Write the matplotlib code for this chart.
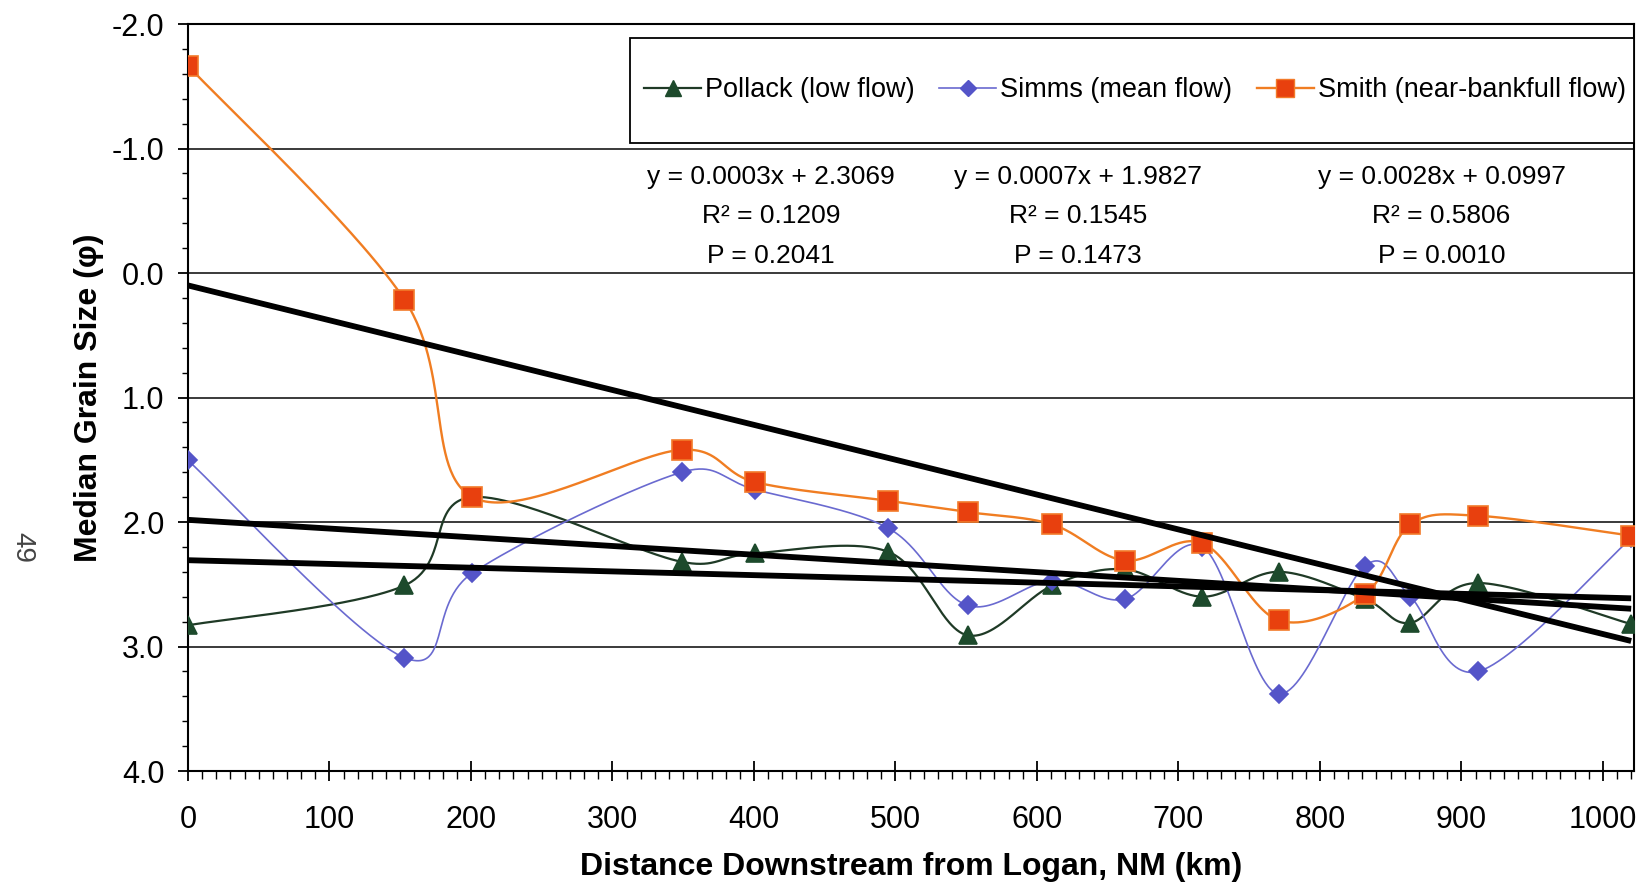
import numpy as np
import matplotlib
matplotlib.use("Agg")
import matplotlib.pyplot as plt
from matplotlib.ticker import MultipleLocator, FixedLocator, FormatStrFormatter
from matplotlib.patches import Rectangle
from matplotlib.lines import Line2D

# ---------------- data ----------------
distance_km = [0, 153, 201, 349, 401, 495, 551, 611, 662, 717, 771, 832, 864, 912, 1020]
pollack_phi = [2.83, 2.51, 1.80, 2.32, 2.25, 2.24, 2.91, 2.51, 2.38, 2.60, 2.40, 2.62, 2.81, 2.49, 2.82]
simms_phi = [1.505, 3.09, 2.41, 1.60, 1.74, 2.05, 2.67, 2.47, 2.62, 2.20, 3.38, 2.35, 2.60, 3.20, 2.13]
smith_phi = [-1.665, 0.215, 1.80, 1.42, 1.68, 1.83, 1.92, 2.02, 2.31, 2.17, 2.79, 2.58, 2.02, 1.95, 2.11]

series_names = ["Pollack (low flow)", "Simms (mean flow)", "Smith (near-bankfull flow)"]
trend_slopes = [0.0003, 0.0007, 0.0028]
trend_intercepts = [2.3069, 1.9827, 0.0997]
r_squared = ["0.1209", "0.1545", "0.5806"]
p_values = ["0.2041", "0.1473", "0.0010"]

x_tick_values = list(range(0, 1001, 100))
y_tick_values = [-2.0, -1.0, 0.0, 1.0, 2.0, 3.0, 4.0]

# ---------------- style ----------------
plt.rcParams["font.family"] = ["Liberation Sans", "DejaVu Sans"]
plt.rcParams["axes.unicode_minus"] = False

W, H = 1646, 888
fig = plt.figure(figsize=(W / 100, H / 100), dpi=100)
L, R, T, B = 188, 1634, 24, 771
ax = fig.add_axes([L / W, 1 - B / H, (R - L) / W, (B - T) / H])
ax.set_xlim(0, 1022)
ax.set_ylim(4, -2)


def excel_smooth(ax, xs, ys, n=60):
    """Excel-like smoothed line (cubic Bezier) computed in screen space."""
    P = ax.transData.transform(np.column_stack([xs, ys]))
    N = len(P)
    out = [P[0]]
    t = np.linspace(0, 1, n)[1:][:, None]
    for i in range(N - 1):
        p0 = P[i - 1] if i > 0 else P[i]
        p1 = P[i]
        p2 = P[i + 1]
        p3 = P[i + 2] if i + 2 < N else P[i + 1]
        d12 = np.linalg.norm(p2 - p1)
        d02 = np.linalg.norm(p2 - p0)
        d13 = np.linalg.norm(p3 - p1)
        f1 = f2 = 1.0 / 6.0
        if d02 > 0 and d02 / 6 > d12 / 2:
            f1 = d12 / (2 * d02)
        if d13 > 0 and d13 / 6 > d12 / 2:
            f2 = d12 / (2 * d13)
        c1 = p1 + f1 * (p2 - p0)
        c2 = p2 - f2 * (p3 - p1)
        seg = ((1 - t) ** 3) * p1 + 3 * ((1 - t) ** 2) * t * c1 + 3 * (1 - t) * t ** 2 * c2 + t ** 3 * p2
        out.extend(seg)
    out = np.array(out)
    d = ax.transData.inverted().transform(out)
    return d[:, 0], d[:, 1]


styles = [
    dict(marker="^", ms=13, mfc="#1d4a2c", mec="#1d4a2c", lc="#1f3a26", lw=1.6),
    dict(marker="D", ms=9, mfc="#5454c8", mec="#5454c8", lc="#6a6ad0", lw=1.2),
    dict(marker="s", ms=14, mfc="#e8400e", mec="#f27a2a", lc="#f07d22", lw=1.7),
]
series_values = [pollack_phi, simms_phi, smith_phi]

handles = []
for k, (vals, st) in enumerate(zip(series_values, styles)):
    sx, sy = excel_smooth(ax, distance_km, vals)
    ax.plot(sx, sy, color=st["lc"], lw=st["lw"], zorder=3 + k, solid_capstyle="round")
    ax.plot(distance_km, vals, ls="none", marker=st["marker"], ms=st["ms"],
            mfc=st["mfc"], mec=st["mec"], mew=1.2, zorder=3.5 + k)
    handles.append(Line2D([0], [0], color=st["lc"], lw=st["lw"], marker=st["marker"],
                          ms=st["ms"] * 0.9, mfc=st["mfc"], mec=st["mec"]))

# linear trend lines
xr = np.array([distance_km[0], distance_km[-1]], dtype=float)
for m, b in zip(trend_slopes, trend_intercepts):
    ax.plot(xr, m * xr + b, color="black", lw=4.2, zorder=8, solid_capstyle="butt")

# axes, ticks, grid
ax.xaxis.set_major_locator(FixedLocator(x_tick_values))
ax.xaxis.set_minor_locator(MultipleLocator(10))
ax.yaxis.set_major_locator(FixedLocator(y_tick_values))
ax.yaxis.set_minor_locator(MultipleLocator(0.2))
ax.yaxis.set_major_formatter(FormatStrFormatter("%.1f"))
ax.tick_params(axis="x", which="major", direction="inout", length=15, width=1.3,
               labelsize=22, pad=17, color="black")
ax.tick_params(axis="x", which="minor", direction="out", length=6, width=1.0)
ax.tick_params(axis="y", which="major", direction="out", length=7, width=1.3,
               labelsize=22, pad=10)
ax.tick_params(axis="y", which="minor", direction="out", length=4.5, width=1.0)
ax.yaxis.grid(True, which="major", color="#2b2b2b", lw=1.3)
ax.set_axisbelow(True)
for sp in ax.spines.values():
    sp.set_color("black")
    sp.set_linewidth(1.5)

ax.set_xlabel("Distance Downstream from Logan, NM (km)", fontsize=23, fontweight="bold")
ax.xaxis.set_label_coords(0.5, (B - 867) / (B - T))
ax.xaxis.label.set_va("center")
ax.set_ylabel("Median Grain Size (\u03c6)", fontsize=23, fontweight="bold")
ax.yaxis.set_label_coords((89 - L) / (R - L), 0.5)
ax.yaxis.label.set_va("center")

# legend box + legend
rx0 = (630 - L) / (R - L)
ry0 = 1 - (143 - T) / (B - T)
ry1 = 1 - (38 - T) / (B - T)
ax.add_patch(Rectangle((rx0, ry0), 1 - rx0, ry1 - ry0, transform=ax.transAxes,
                       facecolor="white", edgecolor="black", lw=1.3, zorder=10))
leg = ax.legend(handles, series_names, loc="center",
                bbox_to_anchor=((1135 - L) / (R - L), 1 - (90 - T) / (B - T)),
                ncol=3, frameon=False, fontsize=19.5, handlelength=2.1,
                handletextpad=0.15, columnspacing=0.9, borderaxespad=0)
leg.set_zorder(11)

# equation annotations
eq_x = [412, 629, 886]
eq_rows_y = [-0.77, -0.455, -0.135]
for k in range(3):
    ax.text(eq_x[k], eq_rows_y[0], f"y = {trend_slopes[k]:.4f}x + {trend_intercepts[k]:.4f}",
            ha="center", va="center", fontsize=19, zorder=12)
    ax.text(eq_x[k], eq_rows_y[1], f"R\u00b2 = {r_squared[k]}",
            ha="center", va="center", fontsize=19, zorder=12)
    ax.text(eq_x[k], eq_rows_y[2], f"P = {p_values[k]}",
            ha="center", va="center", fontsize=19, zorder=12)

# page number
fig.text(22 / W, 1 - 547 / H, "49", rotation=-90, fontsize=20, color="#444444",
         ha="center", va="center")

fig.savefig("out.png", dpi=100, facecolor="white")
